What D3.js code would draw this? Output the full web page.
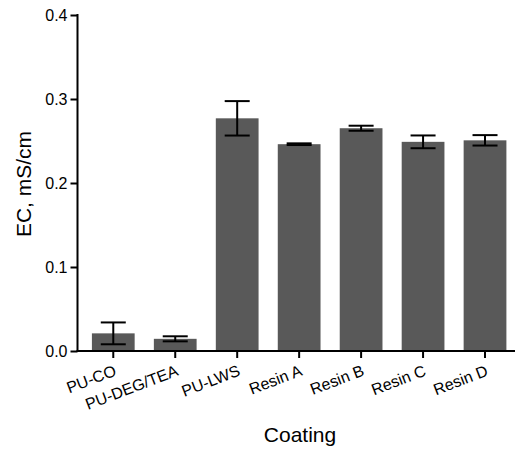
<!DOCTYPE html>
<html><head><meta charset="utf-8">
<script src="https://cdn.jsdelivr.net/npm/d3@7"></script>
<style>body{margin:0;background:#fff}svg{display:block}text{font-family:"Liberation Sans",Arial,sans-serif}</style>
</head><body><svg id="c" width="515" height="455"></svg>
<script>
const categories = ["PU-CO","PU-DEG/TEA","PU-LWS","Resin A","Resin B","Resin C","Resin D"];
const means = [0.021, 0.0145, 0.277, 0.2462, 0.2652, 0.249, 0.2508];
const errors = [0.013, 0.003, 0.0205, 0.001, 0.003, 0.0076, 0.0062];
const yTicks = [0.0, 0.1, 0.2, 0.3, 0.4];

const svg = d3.select("#c");
const x = d3.scaleBand().domain(categories).range([82.3, 516]).paddingInner(0.31).paddingOuter(0.155);
const y = d3.scaleLinear().domain([0, 0.4]).range([351, 15]);

const g = svg.append("g");
g.selectAll("rect.bar").data(categories).join("rect")
  .attr("x", d => x(d)).attr("width", x.bandwidth())
  .attr("y", (d,i) => y(means[i])).attr("height", (d,i) => y(0) - y(means[i]))
  .attr("fill", "#595959");

const eb = g.selectAll("g.eb").data(categories).join("g").attr("stroke", "#000").attr("stroke-width", 2);
const cx = d => x(d) + x.bandwidth()/2;
eb.append("line").attr("x1", cx).attr("x2", cx)
  .attr("y1", (d,i) => y(means[i]+errors[i])).attr("y2", (d,i) => y(means[i]-errors[i]));
eb.append("line").attr("x1", d => cx(d)-12.5).attr("x2", d => cx(d)+12.5)
  .attr("y1", (d,i) => y(means[i]+errors[i])).attr("y2", (d,i) => y(means[i]+errors[i]));
eb.append("line").attr("x1", d => cx(d)-12.5).attr("x2", d => cx(d)+12.5)
  .attr("y1", (d,i) => y(means[i]-errors[i])).attr("y2", (d,i) => y(means[i]-errors[i]));

const ya = svg.append("g").attr("transform", "translate(77.5,0)")
  .call(d3.axisLeft(y).tickValues(yTicks).tickFormat(d3.format(".1f")).tickSize(7).tickPadding(3));
ya.select(".domain").attr("stroke-width", 2).attr("d", "M0,14V352");
ya.selectAll(".tick line").attr("stroke-width", 2);
ya.selectAll("text").attr("font-size", 16).attr("fill", "#000").attr("font-family", "Liberation Sans, Arial, sans-serif");

const xa = svg.append("g").attr("transform", "translate(0,351)")
  .call(d3.axisBottom(x).tickSize(7).tickSizeOuter(0));
xa.select(".domain").attr("stroke-width", 2).attr("d", "M76.5,0H515");
xa.selectAll(".tick line").attr("stroke-width", 2);
xa.selectAll("text").attr("font-size", 16).attr("fill", "#000")
  .attr("font-family", "Liberation Sans, Arial, sans-serif")
  .attr("text-anchor", "end").attr("x", 0).attr("y", 0).attr("dy", 0)
  .attr("transform", "translate(4,24) rotate(-21)");

svg.append("text").attr("x", 300).attr("y", 442).attr("text-anchor", "middle")
  .attr("font-size", 21).text("Coating");
svg.append("text").attr("transform", "translate(31,184) rotate(-90)").attr("text-anchor", "middle")
  .attr("font-size", 21).text("EC, mS/cm");
</script></body></html>
